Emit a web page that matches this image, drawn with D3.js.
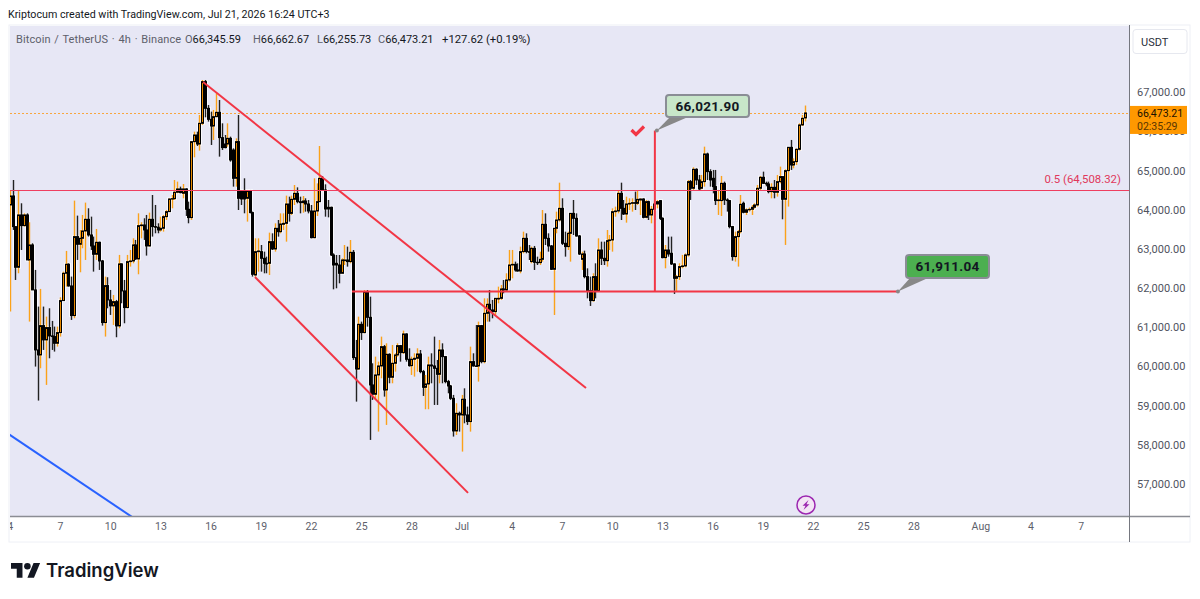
<!DOCTYPE html>
<html>
<head>
<meta charset="utf-8">
<script src="https://cdn.jsdelivr.net/npm/d3@7"></script>
<style>
body { margin: 0; background: #fff; }
text { font-family: Roboto, sans-serif; }
.tick text { font-family: Roboto, sans-serif; }
</style>
</head>
<body>
<svg id="chart" width="1200" height="599"></svg>
<script>
const opens = [64123,64353,63570,62532,63868,63595,63868,62719,63102,61953,60421,60294,
61042,60677,60992,60779,60762,60591,60864,61681,62379,62608,62055,61298,
63315,63119,63272,63459,63757,63357,63076,62864,63170,62693,61119,62064,
61698,61545,61655,61034,62617,61928,61502,62676,62693,63102,62745,63595,
63612,63485,63076,63757,63570,63555,63485,63528,63825,63953,64276,64285,
64447,64532,64421,64532,64013,63800,65740,65910,65680,66208,67272,66591,
66310,66140,66378,66489,65842,65680,65680,65825,65527,64804,65740,64489,
64489,64293,64489,63927,62335,62931,62931,62761,62633,62633,63186,62999,
63527,63441,63629,63654,64148,63909,64267,64420,64207,64182,64224,64148,
63969,63288,63969,64207,64803,64505,64063,64063,62846,62633,62590,62378,
62701,62718,62676,62914,60225,59935,61076,60863,61910,61254,59527,59289,
59782,60012,60505,59399,60310,59723,60080,60293,60531,60352,60829,60182,
60020,60182,60208,60318,59867,59467,59552,60037,60012,59952,59799,60420,
60250,59612,59501,59186,58352,58803,58761,59161,58761,58591,60122,60012,
60012,61042,60122,61356,61586,61442,61400,61722,61739,61978,61952,62207,
62590,62607,62463,62437,62931,63271,62931,62676,63016,62659,62650,62735,
63629,63271,63076,62480,63527,63739,64037,63144,63059,63399,63909,63782,
63331,62735,62871,62293,61935,61680,62293,61935,62973,62761,62700,63212,
63229,63952,63969,64420,64037,63892,64148,64165,64182,64165,64250,64275,
63807,64207,63867,64012,64148,64233,63782,62778,62973,62889,62617,62251,
62293,62549,62566,62847,64719,64549,65034,64761,64549,64719,65425,64974,
64804,64591,64234,64234,64676,64251,64234,63570,62804,63315,63442,64166,
63936,64000,64012,64064,64123,64549,64830,64676,64659,64463,64574,64447,
64719,64847,64268,65000,65595,65144,65229,65544,66166,66345.59];
const highs = [64506,64761,63570,64506,64166,63910,63910,63681,63145,62464,61528,61979,
61528,61272,61485,61162,61017,61017,61766,62421,62949,62634,62294,64234,
63851,63485,63868,64183,64038,63825,63315,63510,63187,62719,62294,62277,
61953,61825,61698,62847,62634,62208,62847,62974,63272,63230,63910,63681,
63783,63868,63927,64378,64123,63655,63825,63868,63995,64293,64378,64761,
64719,64591,64659,64549,64208,65757,65995,65995,66421,67314,67314,66676,
66506,66549,66974,66804,66208,65910,66208,65868,65570,65825,66421,64489,
64804,64489,64506,63953,63271,63271,63101,62931,62803,63416,63399,63654,
63739,63909,63909,64361,64335,64361,64633,64573,64335,64352,64293,64250,
64122,64803,64675,65629,64863,64650,64250,64080,62888,62846,62846,62761,
63101,63059,63229,62973,60676,61271,61144,61952,61952,61782,60080,60250,
60122,60761,60548,60590,60335,60548,60335,60590,60548,60914,60846,60463,
60250,60335,60463,60420,59910,59782,60250,60335,60761,60165,60676,60590,
60267,59655,59527,59272,59059,58846,59272,59441,58974,60505,60335,61059,
61144,61059,61739,61739,61952,61697,61739,62037,62080,62207,62378,62974,
62974,62676,62633,63059,63441,63399,63101,63059,63076,62803,62931,63995,
63909,63399,63101,63527,63952,64692,64293,63441,63441,63909,64250,63909,
63356,62931,62956,62505,62293,62378,62633,63271,63186,63186,63484,63356,
64037,64080,64505,64692,64250,64335,64293,64293,64463,64488,64293,64293,
64250,64233,64097,64207,64250,64250,63807,63101,63314,63315,62634,62336,
62634,62847,62889,64761,64761,65085,65059,64889,64889,65612,65459,65034,
65017,65017,64506,64864,64719,64293,64251,63587,63442,63485,64378,64208,
64038,64060,64123,64166,64634,64864,64974,64719,64719,64676,64761,64889,
65102,64847,65034,65595,65783,65314,65570,66208,66421,66662.67];
const lows = [61400,63485,62208,62379,62974,63570,62719,61145,61953,59996,59128,59953,
60421,59528,60208,60421,60379,60506,60762,61681,62038,62038,61187,61230,
62719,62404,63017,62719,63315,62974,62421,62719,62464,61042,60762,61485,
61315,61060,60745,60974,61613,61102,61485,62549,62634,62719,62353,63272,
63230,62830,63060,63315,63400,63400,63442,63442,63740,63953,64038,64251,
64421,64421,64293,63842,63655,63740,65340,65629,65510,66166,66361,66251,
65655,65783,66361,65357,65527,65570,65612,65229,64591,64591,63995,64123,
63910,63698,63910,62294,62293,62420,62420,62378,62378,62335,62973,62931,
63314,63399,63484,63186,63697,63867,64122,64165,63909,63926,63952,63909,
63271,63271,63841,64207,64505,63824,63807,62820,61969,61995,62122,62378,
62590,62548,62633,60165,59101,59910,60676,60846,61016,58123,59144,59144,
58336,59697,59229,58506,59569,59569,59867,60250,60122,60318,60122,59995,
59782,59740,59867,59825,59246,58906,58906,59569,59016,59016,59569,59569,
59569,59314,59144,58208,58250,58335,57825,58548,58506,58335,59995,59995,
59612,60080,60080,61144,61144,61229,61314,61612,61697,61867,61910,62165,
62250,62420,62420,62378,62888,62888,62718,62633,62463,62590,62590,62676,
63101,62931,62463,61314,63399,63697,63101,62803,62973,62676,63356,63314,
62846,62463,62250,61739,61544,61654,61739,61910,62590,62590,62548,62973,
62931,63824,63909,63739,63867,63671,63995,63952,63995,64122,63867,63782,
63782,63739,63654,63824,64037,63739,62761,62505,62803,62591,61851,61910,
62208,62506,62532,62804,64251,64506,64634,64506,64523,64591,64761,64591,
64421,64123,63868,63842,64123,63953,63527,62702,62676,62549,63400,63910,
63868,63950,63868,64030,64081,64506,64659,64600,64421,64293,64293,64336,
64676,63757,63102,64081,65017,65059,65144,65510,66140,66255.73];
const closes = [64353,63570,62532,63868,63595,63868,62719,63102,61953,60421,60294,61042,
60677,60992,60779,60762,60591,60864,61681,62379,62608,62055,61298,63315,
63119,63272,63459,63757,63357,63076,62864,63170,62693,61119,62064,61698,
61545,61655,61034,62617,61928,61502,62676,62693,63102,62745,63595,63612,
63485,63076,63757,63570,63555,63485,63528,63825,63953,64276,64285,64447,
64532,64438,64532,64013,63800,65740,65910,65680,66208,67272,66591,66310,
66140,66378,66489,65842,65587,65587,65825,65272,64804,65740,64293,64276,
64276,64489,63927,62353,62931,62948,62761,62633,62616,63186,62999,63527,
63441,63637,63654,64148,63909,64267,64420,64207,64182,64224,64148,63969,
63288,63969,64207,64803,64505,64020,64020,62846,62590,62590,62378,62718,
62718,62676,62914,60225,59935,61076,60863,61910,61254,59527,59289,59782,
60012,60505,59399,60310,59723,60080,60293,60531,60352,60829,60182,60020,
60182,60208,60318,59867,59467,59552,60037,60012,59952,59799,60420,60250,
59612,59501,59186,58352,58803,58761,59161,58761,58591,60122,60012,60000,
61042,60122,61356,61586,61442,61400,61739,61739,61978,61952,62207,62590,
62607,62463,62437,62931,63271,62931,62914,63016,62659,62650,62735,63629,
63271,63076,62480,63527,63739,64037,63144,63059,63399,63909,63782,63331,
62871,62871,62293,61935,61680,62293,61935,62973,62761,62700,63212,63229,
63952,63969,64420,64037,63892,64148,64165,64182,64165,64267,64275,63807,
64207,63867,64012,64148,64207,63782,62778,62973,62871,62617,62251,62293,
62549,62566,62847,64719,64549,65034,64761,64532,64719,65425,64974,64761,
64591,64234,64251,64676,64251,64234,63570,62804,63315,63442,64140,63936,
64000,64012,64064,64123,64549,64830,64676,64659,64463,64574,64447,64719,
64847,64268,65000,65595,65144,65229,65544,66166,66336,66473.21];

const priceTicks = [57000,58000,59000,60000,61000,62000,63000,64000,65000,66000,67000];
const dayTicks = [
  [5,4],[5,7],[5,10],[5,13],[5,16],[5,19],[5,22],[5,25],[5,28],
  [6,1],[6,4],[6,7],[6,10],[6,13],[6,16],[6,19],[6,22],[6,25],[6,28],
  [7,1],[7,4],[7,7]];
const dayLabels = ["4","7","10","13","16","19","22","25","28","Jul","4","7","10","13","16","19","22","25","28","Aug","4","7"];

// trend lines: bar index and price of both ends
const channelTop = [[69.3,67263],[206.6,59451]];
const channelBottom = [[87.9,62285],[164.3,56770]];
const blueLine = [[-1,58300],[45,56100]];
const supportLine = [[122.7,61911.04],[318.1,61911.04]];
const measureLine = [[231.3,66021.9],[231.3,61911.04]];
const fibPrice = 64508.32;
const lastClose = 66473.21;

const svg = d3.select("#chart");
const paneL = 10, paneR = 1129, paneT = 26, paneB = 516;

const x = d3.scaleUtc()
    .domain([new Date(Date.UTC(2026, 5, 4)), new Date(Date.UTC(2026, 5, 7))])
    .range([9.8, 60]);
const y = d3.scaleLinear().domain([57000, 67000]).range([483.9, 92.3]);
const startMs = Date.UTC(2026, 5, 4);
const barX = i => x(new Date(startMs + i * 4 * 3600000));
const snapX = i => Math.round(barX(i)) + 0.5;

// outer frame and pane
svg.append("rect").attr("x", 9).attr("y", 25).attr("width", 1181).attr("height", 517)
    .attr("fill", "#fff").attr("stroke", "#eef0f6");
svg.append("rect").attr("x", paneL).attr("y", paneT).attr("width", paneR - paneL).attr("height", paneB - paneT)
    .attr("fill", "#e7e7f5");
svg.append("clipPath").attr("id", "pane").append("rect")
    .attr("x", paneL).attr("y", paneT).attr("width", paneR - paneL).attr("height", paneB - paneT);
svg.append("clipPath").attr("id", "timeAxis").append("rect")
    .attr("x", paneL).attr("y", paneB).attr("width", paneR - paneL).attr("height", 30);

const plot = svg.append("g").attr("clip-path", "url(#pane)");

// last price dotted line
plot.append("line").attr("x1", paneL).attr("x2", paneR)
    .attr("y1", Math.round(y(lastClose)) + 0.5).attr("y2", Math.round(y(lastClose)) + 0.5)
    .attr("stroke", "#f8a63e").attr("stroke-dasharray", "2 2");

// candles
const candles = d3.range(opens.length).map(i => ({
    i, o: opens[i], h: highs[i], l: lows[i], c: closes[i], up: closes[i] >= opens[i]
}));
// pale halo the reference has around the dark bars
plot.selectAll("rect.halo").data(candles).enter().append("rect").attr("class", "halo")
    .attr("x", d => snapX(d.i) - 1).attr("width", 2)
    .attr("y", d => y(Math.max(d.o, d.c)))
    .attr("height", d => Math.max(0.5, Math.abs(y(d.o) - y(d.c))))
    .attr("fill", "none").attr("stroke", "#fff").attr("stroke-opacity", 0.75).attr("stroke-width", 3);
const candle = plot.selectAll("g.candle").data(candles).enter().append("g").attr("class", "candle");
candle.append("line")
    .attr("x1", d => snapX(d.i)).attr("x2", d => snapX(d.i))
    .attr("y1", d => y(d.h)).attr("y2", d => y(d.l))
    .attr("stroke", d => d.up ? "#fba21a" : "#222")
    .attr("stroke-width", 1.4);
candle.append("rect")
    .attr("x", d => snapX(d.i) - 1).attr("width", 2)
    .attr("y", d => y(Math.max(d.o, d.c)))
    .attr("height", d => Math.max(0.5, Math.abs(y(d.o) - y(d.c))))
    .attr("fill", d => d.up ? "#e88a00" : "#000")
    .attr("stroke", "#000").attr("stroke-width", 1);

// drawings
const lineGen = d3.line().x(d => barX(d[0])).y(d => y(d[1]));
plot.append("path").attr("d", lineGen(blueLine)).attr("fill", "none").attr("stroke", "#2962ff").attr("stroke-width", 2);
[channelTop, channelBottom, supportLine, measureLine].forEach(l => {
    plot.append("path").attr("d", lineGen(l)).attr("fill", "none").attr("stroke", "#f23645").attr("stroke-width", 2);
});
plot.append("line").attr("x1", paneL).attr("x2", paneR)
    .attr("y1", Math.round(y(fibPrice)) + 0.5).attr("y2", Math.round(y(fibPrice)) + 0.5)
    .attr("stroke", "#ef3f60").attr("stroke-width", 1);
plot.append("text").attr("x", 1121).attr("y", y(fibPrice) - 7)
    .attr("text-anchor", "end").attr("font-size", 11.4).attr("fill", "#e0385c")
    .text("0.5 (64,508.32)");

// callouts
function callout(ax, ay, bx, by, w, h, fill, label) {
    const g = svg.append("g");
    g.append("path")
        .attr("d", `M${ax},${ay}L${bx + 4},${by + h}L${bx + 22},${by + h}Z`)
        .attr("fill", "#888");
    g.append("rect").attr("x", bx).attr("y", by).attr("width", w).attr("height", h).attr("rx", 3)
        .attr("fill", fill).attr("stroke", "#8a8d95").attr("stroke-width", 2);
    g.append("circle").attr("cx", ax).attr("cy", ay).attr("r", 2).attr("fill", "#888");
    g.append("text").attr("x", bx + w / 2).attr("y", by + h / 2 + 4.5).attr("text-anchor", "middle")
        .attr("font-size", 13.5).attr("font-weight", 700).attr("fill", "#131722")
        .attr("letter-spacing", 0.3).text(label);
}
callout(barX(231.3) + 2, y(66021.9), 666, 95, 83, 22, "#c8e6c9", "66,021.90");
callout(barX(318.1) + 1, y(61911.04), 906, 255, 83, 23, "#4caf50", "61,911.04");

// check mark
svg.append("path").attr("d", "M631.5,130L636,134.5L644,126.5")
    .attr("fill", "none").attr("stroke", "#f23645").attr("stroke-width", 3.2);

// lightning badge
svg.append("circle").attr("cx", 806).attr("cy", 505).attr("r", 9)
    .attr("fill", "#f3e5f5").attr("stroke", "#9c27b0").attr("stroke-width", 1.5);
svg.append("path").attr("d", "M808.5,500L802.5,505.8L805.5,505.8L803.5,510L809.5,504.2L806.5,504.2Z")
    .attr("fill", "#9c27b0");

// axes
const yAxis = svg.append("g").attr("transform", `translate(${paneR + 1},0)`)
    .call(d3.axisRight(y).tickValues(priceTicks).tickSize(0).tickPadding(7).tickFormat(d3.format(",.2f")));
yAxis.select(".domain").remove();
yAxis.selectAll("text").attr("font-size", 11).attr("fill", "#50535e");

const dayDates = dayTicks.map(d => new Date(Date.UTC(2026, d[0], d[1])));
const xAxis = svg.append("g").attr("clip-path", "url(#timeAxis)").append("g")
    .attr("transform", `translate(0,${paneB})`)
    .call(d3.axisBottom(x).tickValues(dayDates).tickSize(0).tickPadding(7).tickFormat((d, i) => dayLabels[i]));
xAxis.select(".domain").remove();
xAxis.selectAll("text").attr("font-size", 10.5).attr("fill", "#5d606b");

svg.append("line").attr("x1", paneL).attr("x2", 1190).attr("y1", paneB + 0.5).attr("y2", paneB + 0.5)
    .attr("stroke", "#8b8d94").attr("stroke-width", 1.5);
svg.append("line").attr("x1", paneR + 0.5).attr("x2", paneR + 0.5).attr("y1", 25).attr("y2", 542)
    .attr("stroke", "#75777f").attr("stroke-width", 1);

// last price tag
svg.append("rect").attr("x", paneR + 1).attr("y", y(lastClose) - 7).attr("width", 57).attr("height", 28).attr("fill", "#ff9800");
svg.append("text").attr("x", 1137).attr("y", y(lastClose) + 4).attr("font-size", 10.5).attr("fill", "#1a1200").text("66,473.21");
svg.append("text").attr("x", 1137).attr("y", y(lastClose) + 17).attr("font-size", 10.5).attr("fill", "#5a3500").text("02:35:29");

// currency button
svg.append("rect").attr("x", 1133).attr("y", 29.5).attr("width", 54).attr("height", 24).attr("rx", 3)
    .attr("fill", "#fff").attr("stroke", "#e6e8ef");
svg.append("text").attr("x", 1141).attr("y", 45.5).attr("font-size", 11).attr("fill", "#2a2e39").text("USDT");

// header
svg.append("text").attr("x", 8).attr("y", 18).attr("font-size", 10.7).attr("fill", "#131722")
    .text("Kriptocum created with TradingView.com, Jul 21, 2026 16:24 UTC+3");
const legend = svg.append("text").attr("x", 16).attr("y", 43).attr("font-size", 11).attr("fill", "#5d606b");
legend.append("tspan").attr("word-spacing", 0.9).attr("letter-spacing", 0.1).text("Bitcoin / TetherUS · 4h · Binance");
[["O","66,345.59",185],["H","66,662.67",253],["L","66,255.73",317],["C","66,473.21",378]].forEach(d => {
    legend.append("tspan").attr("x", d[2]).text(d[0]);
    legend.append("tspan").attr("fill", "#131722").text(d[1]);
});
legend.append("tspan").attr("x", 442).attr("fill", "#131722").attr("font-size", 11.3).text("+127.62 (+0.19%)");

// logo
const logo = svg.append("g").attr("transform", "translate(11,559.7) scale(0.82)");
logo.append("path").attr("d", "M14 22H7V11H0V4h14v18zM28 22h-8l7.5-18h8L28 22z").attr("fill", "#131722");
logo.append("circle").attr("cx", 20).attr("cy", 8).attr("r", 4).attr("fill", "#131722");
svg.append("text").attr("x", 46).attr("y", 577).style("font-family", "Inter, sans-serif")
    .attr("font-size", 18.5).attr("font-weight", 600).attr("fill", "#131722").text("TradingView");
</script>
</body>
</html>
